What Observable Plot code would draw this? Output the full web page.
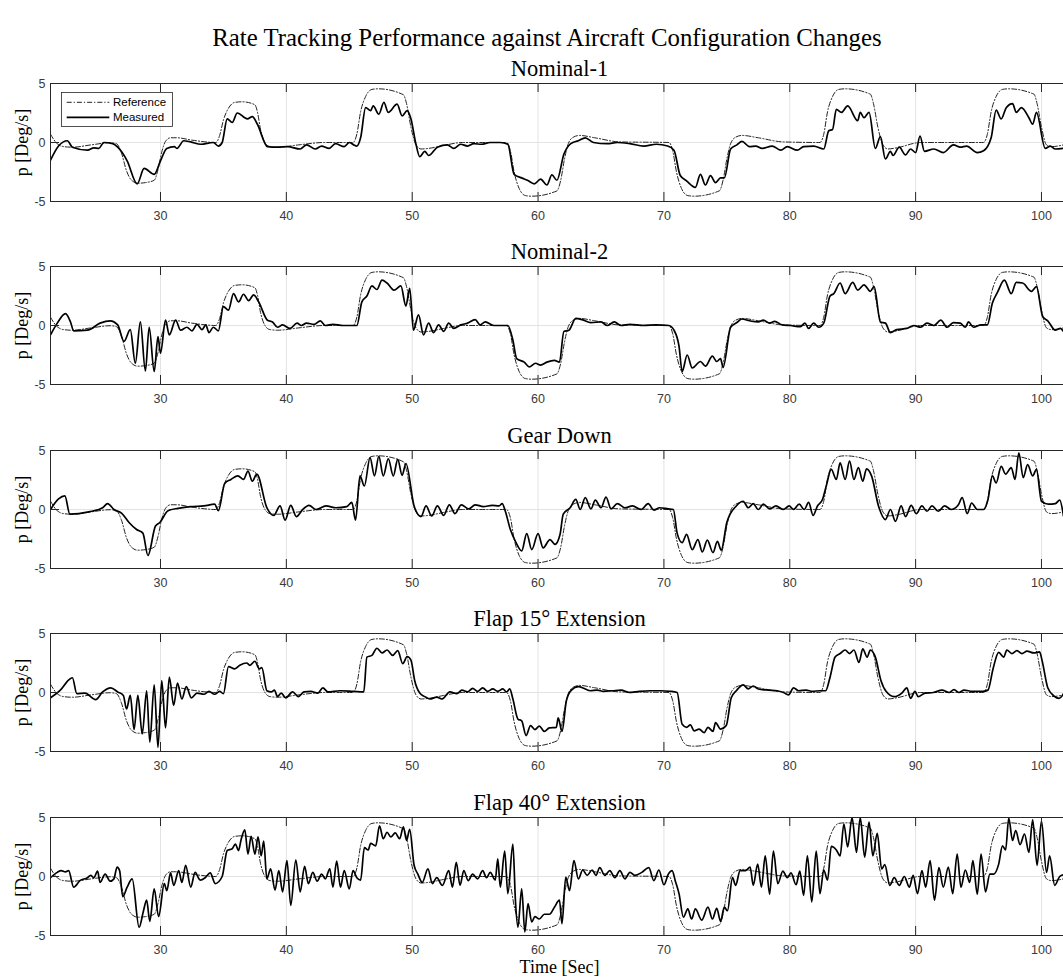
<!DOCTYPE html>
<html><head><meta charset="utf-8">
<script src="https://cdn.jsdelivr.net/npm/d3@7"></script>
<script src="https://cdn.jsdelivr.net/npm/@observablehq/plot@0.6"></script>
<style>
html,body{margin:0;padding:0;background:#fff;overflow:hidden;}
#fig{position:relative;width:1063px;height:979px;overflow:hidden;background:#fff;}
.panel{position:absolute;left:0;}
.panel svg{display:block;max-width:none !important;background:transparent;}
#title{position:absolute;top:26px;left:547px;transform:translateX(-50%);white-space:nowrap;font-family:"Liberation Serif",serif;font-size:24.8px;line-height:1;color:#000;}
</style></head><body>
<div id="fig"><div id="title"></div></div>
<script>
const figTitle = "Rate Tracking Performance against Aircraft Configuration Changes";
const panelTitles = ["Nominal-1", "Nominal-2", "Gear Down", "Flap 15° Extension", "Flap 40° Extension"];
const yLabel = "p [Deg/s]";
const xLabel = "Time [Sec]";
const legendLabels = ["Reference", "Measured"];
const xTicks = [30, 40, 50, 60, 70, 80, 90, 100];
const yTicks = [-5, 0, 5];
const xDomain = [21.26, 101.75];
const yDomain = [-5, 5];

// commanded roll rate (same in every panel)
const reference = [[21.26,0.7],[21.7,0.0],[22.3,-0.35],[23.0,-0.4],[24.5,-0.2],[26.0,-0.02],[26.5,-0.1],[26.9,-0.9],[27.3,-2.4],[27.7,-3.2],[28.2,-3.45],[28.8,-3.4],[29.5,-3.2],[29.8,-2.3],[30.1,-0.8],[30.4,0.1],[30.8,0.4],[31.3,0.4],[32.5,0.2],[34.4,0.0],[34.7,0.6],[35.0,1.9],[35.4,2.9],[35.9,3.4],[36.5,3.45],[37.5,3.2],[37.7,2.6],[37.95,1.1],[38.3,0.0],[38.7,-0.35],[39.3,-0.4],[41.0,-0.2],[43.0,0.0],[45.3,0.0],[45.6,0.7],[45.9,2.6],[46.3,3.9],[46.8,4.5],[47.3,4.55],[49.3,4.05],[49.55,3.3],[49.9,1.3],[50.3,-0.2],[50.7,-0.55],[51.3,-0.5],[52.5,-0.25],[54.0,0.0],[57.5,0.0],[57.8,-0.7],[58.1,-2.5],[58.5,-3.9],[59.0,-4.5],[59.5,-4.55],[61.5,-4.1],[61.8,-3.2],[62.1,-1.4],[62.4,-0.1],[62.8,0.45],[63.3,0.6],[64.5,0.4],[66.5,0.05],[70.4,0.0],[70.7,-0.7],[71.0,-2.5],[71.4,-3.9],[71.9,-4.5],[72.4,-4.55],[74.4,-4.1],[74.7,-3.2],[75.0,-1.4],[75.3,-0.1],[75.7,0.45],[76.2,0.6],[77.5,0.4],[79.5,0.05],[82.4,0.0],[82.7,0.7],[83.0,2.6],[83.4,3.9],[83.9,4.5],[84.4,4.55],[86.4,4.1],[86.65,3.3],[87.0,1.3],[87.4,-0.2],[87.8,-0.55],[88.5,-0.45],[90.4,0.0],[95.4,0.0],[95.7,0.7],[96.0,2.6],[96.4,3.9],[96.9,4.5],[97.4,4.55],[99.4,4.1],[99.65,3.3],[100.0,1.3],[100.4,-0.2],[100.8,-0.35],[101.75,-0.2]];

const nominal1 = [[21.26,-1.5],[21.9,-0.3],[22.6,0.15],[23.0,-0.4],[24.2,-0.65],[24.7,-0.45],[25.1,-0.5],[25.5,0],[26.2,-0.1],[26.6,-0.4],[27.35,-1.55],[28.15,-3.5],[28.7,-2.2],[29.5,-2.7],[30.0,-1.55],[30.5,-0.5],[31.1,-0.35],[31.3,-0.5],[31.85,0.15],[32.4,0.05],[33.2,-0.15],[34.2,0],[34.6,-0.3],[34.9,0],[35.3,2.0],[35.7,1.7],[36.1,2.5],[36.9,2.0],[37.3,2.2],[37.7,1.55],[38.5,-0.35],[39.3,-0.4],[40.1,-0.35],[41.1,-0.55],[41.6,-0.2],[42.3,-0.55],[42.8,-0.3],[43.4,-0.5],[43.9,-0.1],[44.6,-0.35],[45.0,0],[45.35,-0.2],[45.6,-0.3],[45.9,0.4],[46.3,2.95],[46.7,2.7],[46.9,3.1],[47.35,2.4],[47.75,3.4],[48.1,2.55],[48.8,3.25],[49.2,2.25],[49.6,2.7],[49.9,2.0],[50.3,-0.15],[50.6,-1.2],[51.0,-0.75],[51.3,-1.1],[52.0,-0.4],[52.8,-0.2],[53.3,-0.5],[53.85,-0.15],[54.4,-0.3],[54.9,-0.1],[55.5,-0.15],[56.2,0],[57.0,0],[57.6,-0.15],[58.1,-2.7],[58.7,-3.0],[59.15,-3.2],[59.7,-3.5],[60.2,-3.1],[60.7,-3.6],[61.1,-2.75],[61.5,-3.2],[62.05,-1.0],[62.6,-0.1],[63.2,0.15],[63.75,0.4],[64.4,0],[65.5,-0.1],[66.3,0],[67.3,-0.1],[68.4,-0.3],[69.4,-0.15],[70.3,-0.3],[70.8,-0.65],[71.3,-2.8],[71.8,-3.25],[72.5,-3.8],[72.9,-2.7],[73.3,-3.6],[73.7,-2.8],[74.1,-3.4],[74.5,-3.0],[74.8,-3.0],[75.3,-0.55],[75.8,-0.2],[76.2,0.1],[76.8,-0.35],[77.3,-0.3],[77.8,-0.5],[78.6,-0.3],[79.3,-0.65],[79.8,-0.35],[80.6,-0.65],[81.1,-0.35],[81.9,-0.3],[82.7,-0.55],[83.1,1.0],[83.4,1.1],[83.7,2.8],[84.1,2.55],[84.6,3.1],[85.4,1.85],[85.6,2.55],[85.9,2.1],[86.3,2.55],[86.8,-0.5],[87.2,0.5],[87.6,-1.4],[88.0,-0.75],[88.2,-1.1],[88.7,-0.4],[89.2,-1.05],[89.6,-0.55],[90.0,-0.85],[90.35,0.55],[90.7,-0.75],[91.45,-0.55],[92.2,-0.85],[93.0,-0.2],[93.55,-0.4],[94.05,-0.3],[94.9,-0.85],[95.4,-0.7],[96.0,0.4],[96.4,2.75],[96.8,2.0],[97.2,2.95],[97.7,3.3],[98.0,2.55],[98.4,2.95],[99.0,2.1],[99.3,1.55],[99.6,2.55],[100.3,-0.5],[100.7,-0.3],[101.1,-0.55],[101.75,-0.5]];

const nominal2 = [[21.26,-0.8],[21.8,0.2],[22.45,1.0],[22.85,0.3],[23.1,-0.45],[24.2,-0.4],[25.2,0.2],[26.0,0.4],[26.6,0.05],[27.1,-1.35],[27.6,-0.35],[28.0,-3.2],[28.4,0.3],[28.8,-3.85],[29.1,-0.15],[29.5,-3.9],[29.8,-0.95],[30.0,-2.35],[30.4,0.45],[30.7,-0.8],[31.2,0.45],[31.6,-0.4],[32.1,-0.15],[32.5,-0.45],[32.9,0.1],[33.3,-0.35],[33.6,0.05],[33.85,-0.6],[34.2,-0.15],[34.6,-0.45],[35.0,1.6],[35.4,1.3],[35.8,2.7],[36.2,2.0],[36.6,2.65],[37.0,2.1],[37.4,2.6],[37.8,2.0],[38.5,0.45],[38.9,0.3],[39.3,-0.15],[39.7,0.05],[40.3,-0.25],[40.85,0.2],[41.2,0],[41.6,0.2],[42.2,0.1],[42.7,0.4],[43.1,0],[43.7,0.1],[44.5,0],[45.6,0],[46.0,2.0],[46.4,2.5],[46.8,3.35],[47.2,3.05],[47.6,3.85],[48.0,3.6],[48.55,3.0],[49.1,3.35],[49.5,1.65],[49.8,3.15],[50.1,-0.4],[50.5,0.9],[50.9,-0.8],[51.3,0.2],[51.7,-0.6],[52.1,0.05],[52.5,-0.5],[52.9,0.2],[53.3,-0.25],[53.85,0.05],[54.4,0.2],[55.0,0.5],[55.4,0.05],[55.8,0.3],[56.5,0],[57.6,0],[58.0,-1.25],[58.3,-2.8],[58.9,-3.1],[59.3,-3.5],[59.8,-3.2],[60.2,-3.35],[60.7,-3.1],[61.3,-2.95],[61.7,-3.1],[62.05,-0.5],[62.45,-0.4],[63.0,0.6],[63.5,0.5],[64.2,0.25],[65.0,0.3],[65.5,0],[66.05,0.3],[66.6,0],[67.3,0.1],[68.4,0],[69.4,0.05],[70.4,0],[70.8,-0.4],[71.2,-1.75],[71.45,-3.9],[71.85,-2.5],[72.25,-3.6],[72.9,-3.05],[73.3,-3.45],[73.85,-2.6],[74.2,-3.05],[74.5,-2.8],[74.7,-3.55],[75.3,-0.15],[75.8,0.25],[76.2,0.55],[76.8,0.4],[77.5,0.3],[77.9,0.45],[78.4,0.2],[78.8,0.35],[79.4,0.05],[80.05,0],[80.85,-0.1],[81.2,0.2],[81.5,-0.25],[81.9,0.2],[82.3,-0.15],[82.7,0.2],[83.2,2.5],[83.5,2.7],[84.0,3.6],[84.4,2.7],[85.0,3.65],[85.4,3.0],[85.9,3.45],[86.4,2.9],[86.7,3.3],[87.2,0.3],[87.6,0.2],[88.0,-0.6],[88.5,-0.35],[89.3,-0.25],[89.85,0],[90.4,-0.15],[90.9,0.2],[91.45,0],[92.0,0.45],[92.5,-0.15],[93.0,0.25],[93.55,0.2],[93.95,-0.15],[94.2,0.3],[94.6,-0.15],[95.2,0.05],[95.7,0.05],[96.1,1.9],[96.5,2.8],[97.05,3.85],[97.6,2.7],[98.0,3.65],[98.5,3.6],[99.2,2.9],[99.6,3.3],[100.1,0.75],[100.5,0.4],[101.1,-0.4],[101.5,-0.25],[101.75,-0.5]];

const gearDown = [[21.26,0],[21.9,0.9],[22.4,1.15],[22.8,-0.4],[24.3,-0.2],[25.4,0.15],[25.8,0.5],[26.3,0],[26.9,-0.3],[27.5,-1.1],[28.1,-1.7],[28.6,-2.0],[29.0,-3.9],[29.6,-1.4],[29.95,-1.1],[30.6,-0.1],[31.4,0.1],[32.4,0.25],[33.45,0.3],[34.3,0.45],[34.6,-0.1],[35.1,2.2],[35.6,2.55],[36.15,2.85],[36.6,2.55],[36.95,3.25],[37.3,2.4],[37.65,3.0],[38.45,0.15],[39.0,-0.5],[39.5,0.3],[39.9,-0.9],[40.35,0.35],[40.8,-0.6],[41.3,0],[41.8,0.35],[42.35,0],[43.15,0.3],[43.95,0.15],[44.8,0.25],[45.2,0.6],[45.5,-0.9],[45.85,2.85],[46.2,2.0],[46.65,4.4],[47.0,2.85],[47.35,4.5],[47.7,2.85],[48.1,4.3],[48.5,2.85],[48.85,4.25],[49.2,2.9],[49.5,3.9],[50.15,0.3],[50.7,-0.6],[51.1,0.3],[51.55,-0.55],[52.0,0.3],[52.5,-0.5],[52.95,0.4],[53.4,-0.35],[53.9,0.4],[54.5,0.05],[55.0,0.4],[55.65,0.25],[56.35,0.35],[56.9,0.3],[57.15,0.5],[57.4,-0.15],[57.8,-1.7],[58.25,-2.8],[58.7,-3.5],[59.1,-2.05],[59.5,-3.4],[60.0,-2.05],[60.4,-3.25],[60.95,-2.55],[61.35,-2.95],[61.75,-2.1],[62.0,-0.4],[62.55,0.15],[63.0,0.85],[63.35,0],[63.75,1.0],[64.2,0.05],[64.55,0.8],[65.0,0.15],[65.4,1.05],[65.8,0.05],[66.3,0.5],[66.9,0.15],[67.5,0.3],[68.2,0],[68.75,0.5],[69.2,-0.05],[69.65,0.15],[70.35,0.05],[70.75,0],[71.05,-2.0],[71.45,-2.8],[71.8,-2.1],[72.25,-3.4],[72.7,-2.55],[73.05,-3.6],[73.45,-2.6],[73.9,-3.65],[74.25,-2.7],[74.55,-3.45],[75.0,-1.1],[75.75,0.3],[76.3,0.7],[76.7,0.15],[77.1,0.5],[77.5,0],[77.9,0.45],[78.4,0.05],[78.9,0.3],[79.5,0],[79.95,0.3],[80.3,0],[80.75,0.45],[81.15,0],[81.5,0.6],[81.85,-0.5],[82.2,0.3],[82.6,0.85],[82.9,2.0],[83.3,3.4],[83.7,2.55],[84.0,3.95],[84.4,2.55],[84.75,4.1],[85.1,2.55],[85.45,3.55],[85.8,2.4],[86.1,3.45],[86.5,2.85],[87.05,0.3],[87.6,-0.85],[88.0,0],[88.4,-1.0],[88.85,0.3],[89.2,-0.6],[89.65,0.35],[90.05,-0.35],[90.5,0.3],[90.9,-0.15],[91.3,0.3],[91.8,-0.15],[92.3,0.3],[92.85,0],[93.4,0.4],[93.7,1.0],[94.1,-0.35],[94.45,0.55],[94.9,0],[95.4,0],[95.75,0.85],[96.1,2.85],[96.4,2.25],[96.8,3.65],[97.15,3.0],[97.6,3.55],[97.9,2.55],[98.2,4.8],[98.55,2.7],[98.9,3.8],[99.3,2.85],[99.6,3.4],[100.0,0.7],[100.55,0.45],[101.1,0.5],[101.45,0.8],[101.75,-0.55]];

const flap15 = [[21.26,-0.45],[22.0,0.15],[22.8,1.15],[23.0,1.25],[23.35,-0.1],[24.0,-0.05],[24.85,-0.6],[25.4,0.05],[26.05,0.4],[26.6,0.05],[27.05,-0.25],[27.3,-1.4],[27.6,-0.25],[27.9,-3.15],[28.2,-0.25],[28.55,-3.5],[28.9,0.15],[29.15,-4.2],[29.5,0.65],[29.8,-4.65],[30.1,1.0],[30.4,-3.0],[30.7,1.3],[31.05,-1.1],[31.35,0.8],[31.7,-0.55],[32.05,0.5],[32.45,-0.45],[32.9,-0.05],[33.45,-0.15],[33.85,0.1],[34.3,-0.15],[34.7,0.1],[35.0,-0.1],[35.4,2.2],[35.9,2.0],[36.3,2.3],[36.85,2.5],[37.1,2.3],[37.5,2.65],[37.85,2.0],[38.05,2.1],[38.45,0.15],[38.8,0.05],[39.05,0.2],[39.3,-0.35],[39.6,-0.05],[39.95,-0.45],[40.5,0.05],[40.95,-0.35],[41.4,0.05],[41.95,0.1],[42.5,-0.05],[42.9,0.4],[43.3,0.05],[44.25,0.15],[45.3,0.1],[46.15,0.05],[46.4,3.0],[46.8,3.15],[47.2,3.75],[47.6,3.35],[48.0,3.6],[48.45,3.15],[48.85,3.55],[49.25,2.45],[49.6,3.05],[49.9,2.75],[50.2,1.0],[50.6,-0.05],[51.0,-0.35],[51.4,-0.55],[51.95,-0.4],[52.35,-0.55],[53.0,0.05],[53.55,-0.1],[53.95,0.2],[54.4,0.05],[54.8,0.35],[55.2,0.1],[55.6,0.4],[56.0,0.1],[56.4,0.3],[56.8,0.1],[57.2,0.3],[57.5,0.05],[57.75,0.3],[58.0,-0.55],[58.4,-2.25],[58.7,-2.4],[59.05,-3.65],[59.4,-2.8],[59.75,-3.15],[60.1,-2.85],[60.5,-3.3],[60.9,-3.0],[61.45,-2.95],[61.6,-2.15],[61.9,-3.3],[62.25,-0.7],[62.65,0.2],[63.2,0.5],[63.75,0.3],[64.15,0.15],[64.7,0.2],[65.2,0.1],[65.9,0.15],[66.6,0.2],[67.25,0],[68.05,0.1],[68.9,0.15],[69.7,0.15],[70.5,0.1],[71.05,0],[71.45,-2.7],[71.8,-2.95],[72.1,-2.75],[72.4,-3.25],[72.8,-3.1],[73.2,-3.4],[73.5,-2.95],[73.9,-3.3],[74.1,-2.55],[74.5,-3.1],[74.95,-2.8],[75.35,-0.45],[75.75,0.15],[76.3,0.65],[76.7,0.3],[77.1,0.55],[77.5,0.3],[78.3,0.2],[79.0,0.15],[79.5,0],[79.9,-0.2],[80.3,0.4],[80.7,0.15],[81.3,0.2],[81.8,0.1],[82.4,0.15],[82.85,0.15],[83.2,1.3],[83.6,3.0],[84.0,3.3],[84.4,3.6],[84.75,3.3],[85.1,3.6],[85.5,2.55],[85.8,3.7],[86.15,3.0],[86.4,3.6],[86.8,3.0],[87.25,1.0],[87.65,0.1],[88.3,-0.35],[88.9,-0.05],[89.3,0.4],[89.6,-0.5],[89.95,0.1],[90.2,-0.35],[90.75,-0.05],[91.4,0],[92.1,0.2],[92.65,0],[93.05,0.25],[93.45,0],[93.85,0.2],[94.5,0.1],[95.35,0.1],[95.75,0.2],[96.15,2.0],[96.6,3.4],[97.0,3.0],[97.25,3.6],[97.65,3.3],[98.05,3.55],[98.45,3.3],[98.85,3.5],[99.4,3.35],[99.85,3.45],[100.05,2.7],[100.5,0.4],[101.0,-0.3],[101.4,-0.5],[101.75,-0.1]];

const flap40 = [[21.26,-0.1],[21.8,0.35],[22.1,0.5],[22.45,0.4],[22.7,0.5],[23.1,-0.9],[23.6,-0.35],[24.2,-0.1],[24.45,0.1],[24.7,-0.1],[25.0,0.45],[25.2,-0.5],[25.6,0.2],[26.0,-0.4],[26.3,-0.2],[26.55,0.8],[26.75,0.5],[27.0,-1.7],[27.35,-0.9],[27.75,-0.2],[28.3,-4.3],[28.65,-2.9],[28.9,-2.0],[29.15,-3.8],[29.5,-1.05],[29.85,-3.4],[30.3,-0.6],[30.5,-1.2],[30.8,0.3],[31.05,-0.75],[31.45,0.5],[31.7,-0.5],[32.0,0.95],[32.4,-0.9],[32.75,0.35],[33.15,-0.3],[33.55,-0.1],[33.95,0.3],[34.35,-0.6],[34.9,0],[35.3,2.2],[35.7,2.35],[35.95,2.75],[36.2,2.2],[36.4,3.1],[36.7,3.95],[36.95,1.9],[37.2,3.4],[37.5,1.9],[37.75,3.35],[38.0,1.75],[38.2,3.0],[38.45,-0.2],[38.75,0.65],[39.1,-1.15],[39.4,0.5],[39.7,-1.3],[40.05,1.35],[40.35,-2.45],[40.75,1.4],[41.1,-1.3],[41.45,0.85],[41.75,-0.6],[42.1,0.35],[42.45,-0.4],[42.8,0.2],[43.1,-0.2],[43.45,0.65],[43.7,-0.9],[44.0,1.3],[44.3,-0.9],[44.6,0.5],[45.0,-1.05],[45.3,0.5],[45.6,-0.1],[45.9,-0.3],[46.2,2.45],[46.5,2.25],[46.7,2.8],[47.1,2.6],[47.4,4.3],[47.7,3.2],[48.0,3.75],[48.3,3.35],[48.65,3.7],[49.0,3.2],[49.3,4.2],[49.55,3.05],[49.8,4.0],[50.15,0.95],[50.45,0.2],[50.8,-0.5],[51.25,0.65],[51.6,-0.6],[51.95,-0.1],[52.4,-0.75],[52.9,0.5],[53.2,-0.9],[53.5,1.2],[53.8,-0.75],[54.1,0.5],[54.45,-0.35],[54.8,0.2],[55.2,-0.2],[55.6,0.5],[55.9,-0.1],[56.2,0.35],[56.6,-0.3],[56.8,1.5],[57.0,-0.9],[57.35,2.15],[57.6,-1.45],[58.0,2.75],[58.2,-2.0],[58.4,-4.3],[58.7,-1.05],[58.95,-4.7],[59.2,-2.3],[59.5,-3.85],[59.75,-3.4],[60.1,-3.6],[60.5,-3.2],[60.9,-3.2],[61.3,-2.6],[61.7,-2.0],[61.9,-4.0],[62.2,-0.05],[62.5,-1.2],[62.85,1.35],[63.2,-0.2],[63.55,0.55],[63.9,0.1],[64.3,0.55],[64.6,0.1],[64.9,0.75],[65.3,0.1],[65.7,0.5],[66.1,-0.1],[66.5,0.5],[66.9,-0.2],[67.3,0.35],[67.7,0.1],[68.25,0.35],[68.8,0.75],[69.2,-0.35],[69.6,0.55],[70.0,-0.7],[70.35,0.2],[70.65,0.5],[70.9,-0.35],[71.2,-1.45],[71.55,-3.45],[71.9,-2.75],[72.2,-3.6],[72.5,-2.75],[73.0,-3.7],[73.5,-2.6],[73.85,-3.6],[74.2,-2.7],[74.5,-3.8],[74.8,-2.6],[75.05,-2.9],[75.45,-0.1],[75.7,-0.75],[76.05,0.5],[76.5,0.5],[76.85,0.8],[77.1,-0.75],[77.45,1.05],[77.75,-0.9],[78.05,1.75],[78.4,-1.5],[78.7,2.15],[79.05,-0.6],[79.45,0.45],[79.8,-0.1],[80.1,0.3],[80.5,-0.7],[80.8,0.45],[81.1,-1.6],[81.4,1.75],[81.75,-2.15],[82.1,2.15],[82.4,-1.45],[82.7,0.55],[83.0,-0.3],[83.3,2.55],[83.7,2.25],[84.0,1.75],[84.3,4.45],[84.6,2.5],[84.95,5.0],[85.3,2.05],[85.6,5.0],[85.95,1.65],[86.3,4.6],[86.6,1.75],[86.95,3.65],[87.3,0.65],[87.55,1.0],[87.95,-0.75],[88.3,-0.1],[88.7,-0.75],[89.1,0],[89.5,-0.9],[89.8,0.1],[90.15,-1.45],[90.5,0.5],[90.8,-0.9],[91.15,1.35],[91.5,-2.0],[91.85,0.75],[92.2,-0.9],[92.6,0.8],[92.95,-1.45],[93.3,1.9],[93.6,-0.9],[93.95,0.55],[94.3,-0.5],[94.55,1.35],[94.9,-1.5],[95.2,1.9],[95.55,-1.3],[95.9,0.2],[96.2,0.2],[96.6,1.05],[96.9,2.6],[97.15,2.25],[97.4,4.95],[97.7,3.05],[97.95,3.9],[98.3,2.7],[98.65,3.6],[99.0,2.05],[99.3,4.8],[99.65,0.95],[100.0,4.7],[100.4,0.35],[100.65,1.75],[101.05,-0.75],[101.45,0],[101.75,0.15]];

const measuredSeries = [nominal1, nominal2, gearDown, flap15, flap40];

document.getElementById("title").textContent = figTitle;

const SERIF = "'Liberation Serif', 'Times New Roman', serif";
const SANS = "'Liberation Sans', Arial, sans-serif";
const AX = "#262626";
const GRID = "#e3e3e3";
const REF_DASH = "5,2,1.2,2";
const W = 1063, ML = 50, MR = 0, MT = 30, PH = 118;
const fig = document.getElementById("fig");

measuredSeries.forEach((measured, i) => {
  const last = i === measuredSeries.length - 1;
  const MB = last ? 60 : 35;
  const fw = W - ML - MR;
  const marks = [
    Plot.ruleX(xTicks, {stroke: GRID, strokeWidth: 1}),
    Plot.ruleY([0], {stroke: GRID, strokeWidth: 1}),
    Plot.line(reference, {x: d => d[0], y: d => d[1], curve: "monotone-x", stroke: "#222", strokeWidth: 1, strokeDasharray: REF_DASH, clip: true}),
    Plot.line(measured, {x: d => d[0], y: d => d[1], curve: "monotone-x", stroke: "#000", strokeWidth: 1.7, clip: true}),
    Plot.ruleY(yDomain, {stroke: AX, strokeWidth: 1}),
    Plot.ruleX([xDomain[0]], {stroke: AX, strokeWidth: 1}),
    Plot.ruleX(xTicks, {insetTop: PH - 9, stroke: AX, strokeWidth: 1}),
    Plot.ruleX(xTicks, {insetBottom: PH - 9, stroke: AX, strokeWidth: 1}),
    Plot.ruleY(yTicks, {insetRight: fw - 9, stroke: AX, strokeWidth: 1}),
    Plot.text([panelTitles[i]], {text: d => d, frameAnchor: "top", textAnchor: "middle", dx: 2.5, dy: -8, lineAnchor: "bottom", fontFamily: SERIF, fontSize: 22.5, fill: "#000"}),
    Plot.text([yLabel], {text: d => d, frameAnchor: "left", textAnchor: "middle", lineAnchor: "middle", rotate: -90, dx: -28, fontFamily: SERIF, fontSize: 18, fill: "#000"})
  ];
  if (last) {
    marks.push(Plot.text([xLabel], {text: d => d, frameAnchor: "bottom", textAnchor: "middle", lineAnchor: "middle", dx: 2.5, dy: 32, fontFamily: SERIF, fontSize: 18, fill: "#000"}));
  }
  const svg = Plot.plot({
    width: W,
    height: PH + MT + MB,
    marginLeft: ML, marginRight: MR, marginTop: MT, marginBottom: MB,
    style: {fontFamily: SANS, fontSize: "12.5px", color: "#3a3a3a", background: "transparent", overflow: "visible"},
    x: {domain: xDomain, ticks: xTicks, tickSize: 0, tickPadding: 10, tickFormat: d => String(d), label: null},
    y: {domain: yDomain, ticks: yTicks, tickSize: 0, tickPadding: 5, tickFormat: d => String(d), label: null},
    marks
  });
  if (i === 0) {
    const g = d3.select(svg).append("g");
    const bx = 61.5, by = 39.5, bw = 111, bh = 34;
    g.append("rect").attr("x", bx).attr("y", by).attr("width", bw).attr("height", bh)
      .attr("fill", "#fff").attr("stroke", AX).attr("stroke-width", 0.8);
    const rows = [49.3, 64.3];
    g.append("line").attr("x1", 66.7).attr("x2", 109.3).attr("y1", rows[0]).attr("y2", rows[0])
      .attr("stroke", "#222").attr("stroke-width", 1).attr("stroke-dasharray", REF_DASH);
    g.append("line").attr("x1", 66.7).attr("x2", 109.3).attr("y1", rows[1]).attr("y2", rows[1])
      .attr("stroke", "#000").attr("stroke-width", 1.7);
    legendLabels.forEach((t, k) => {
      g.append("text").attr("x", 113).attr("y", rows[k]).attr("dy", "0.35em")
        .attr("text-anchor", "start")
        .attr("font-family", SANS).attr("font-size", 11.5).attr("fill", "#000").text(t);
    });
  }
  const div = document.createElement("div");
  div.className = "panel";
  div.style.top = (53 + 183.4 * i) + "px";
  div.appendChild(svg);
  fig.appendChild(div);
});
</script>
</body></html>
